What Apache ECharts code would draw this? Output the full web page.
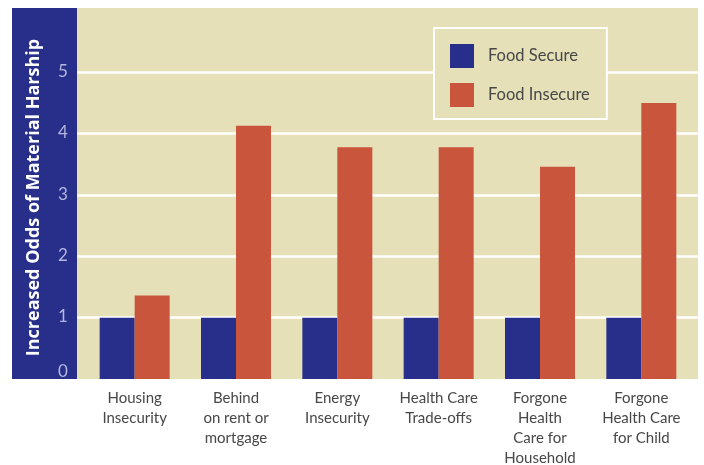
<!DOCTYPE html>
<html>
<head>
<meta charset="utf-8">
<script src="https://cdn.jsdelivr.net/npm/echarts@6/dist/echarts.min.js"></script>
<style>
  html, body { margin: 0; padding: 0; background: #ffffff; }
  #chart { width: 704px; height: 465px; }
</style>
</head>
<body>
<div id="chart"></div>
<script>
const categories = [
  'Housing\nInsecurity',
  'Behind\non rent or\nmortgage',
  'Energy\nInsecurity',
  'Health Care\nTrade-offs',
  'Forgone\nHealth\nCare for\nHousehold',
  'Forgone\nHealth Care\nfor Child'
];
const foodSecure = [1, 1, 1, 1, 1, 1];
const foodInsecure = [1.36, 4.13, 3.78, 3.78, 3.46, 4.5];
const seriesNames = ['Food Secure', 'Food Insecure'];
const yMax = 6.05;
const yTickMaxShown = 5;

const BLUE = '#272f8a';
const RED = '#c8553c';
const BEIGE = '#e6e0b9';
const FONT = 'Lato, "Open Sans", sans-serif';

const chart = echarts.init(document.getElementById('chart'), null, { renderer: 'canvas' });

chart.setOption({
  backgroundColor: '#ffffff',
  animation: false,
  graphic: [{
    type: 'rect',
    z: -10,
    shape: { x: 12, y: 8, width: 65, height: 371 },
    style: { fill: BLUE }
  }],
  legend: {
    data: seriesNames,
    orient: 'vertical',
    left: 434,
    top: 28,
    itemWidth: 24,
    itemHeight: 24,
    itemGap: 15,
    padding: [16, 17, 12, 16],
    backgroundColor: BEIGE,
    borderColor: '#ffffff',
    borderWidth: 2,
    icon: 'rect',
    textStyle: { color: '#474747', fontSize: 16.5, fontFamily: FONT, padding: [0, 0, 0, 9] }
  },
  grid: [
    { left: 84, right: 12, top: 8, bottom: 86, outerBoundsMode: 'none', containLabel: false },
    { left: 77, right: 6, top: 8, bottom: 86, outerBoundsMode: 'none', containLabel: false, show: true, backgroundColor: BEIGE, borderWidth: 0, z: -1 }
  ],
  xAxis: [
    {
      type: 'category',
      gridIndex: 0,
      data: categories,
      axisLine: { show: false },
      axisTick: { show: false },
      axisLabel: {
        color: '#474747',
        fontSize: 15,
        lineHeight: 20,
        fontFamily: FONT,
        margin: 9,
        interval: 0
      }
    },
    {
      type: 'category',
      gridIndex: 1,
      data: categories,
      show: false
    }
  ],
  yAxis: [
    {
      type: 'value',
      gridIndex: 0,
      min: 0,
      max: yMax,
      interval: 1,
      show: false
    },
    {
      type: 'value',
      gridIndex: 1,
      min: 0,
      max: yMax,
      interval: 1,
      name: 'Increased Odds of Material Harship',
      nameLocation: 'middle',
      nameGap: 34,
      nameTextStyle: { color: '#ffffff', fontSize: 18, fontWeight: 'bold', fontFamily: '"Open Sans", sans-serif', padding: [0, 8, 0, 0] },
      axisLine: { show: false },
      axisTick: { show: false },
      axisLabel: {
        color: '#b4b7de',
        fontSize: 17,
        fontFamily: FONT,
        align: 'center',
        margin: 14,
        verticalAlign: 'middle',
        formatter: function (v) {
          if (v > yTickMaxShown) return '';
          return v === 0 ? '{z|0}' : '{n|' + v + '}';
        },
        rich: {
          z: { color: '#b4b7de', fontSize: 17, fontFamily: FONT, padding: [0, 0, 14, 0] },
          n: { color: '#b4b7de', fontSize: 17, fontFamily: FONT, padding: [0, 0, 2, 0] }
        }
      },
      splitLine: {
        show: true,
        lineStyle: {
          width: 2.5,
          color: ['rgba(0,0,0,0)', '#ffffff', '#ffffff', '#ffffff', '#ffffff', '#ffffff', 'rgba(0,0,0,0)', 'rgba(0,0,0,0)']
        }
      }
    }
  ],
  series: [
    {
      name: seriesNames[0],
      type: 'bar',
      xAxisIndex: 0,
      yAxisIndex: 0,
      data: foodSecure,
      barWidth: 35,
      barGap: '0%',
      itemStyle: { color: BLUE },
      z: 5
    },
    {
      name: seriesNames[1],
      type: 'bar',
      xAxisIndex: 0,
      yAxisIndex: 0,
      data: foodInsecure,
      barWidth: 35,
      barGap: '0%',
      itemStyle: { color: RED },
      z: 5
    }
  ]
});
</script>
</body>
</html>
